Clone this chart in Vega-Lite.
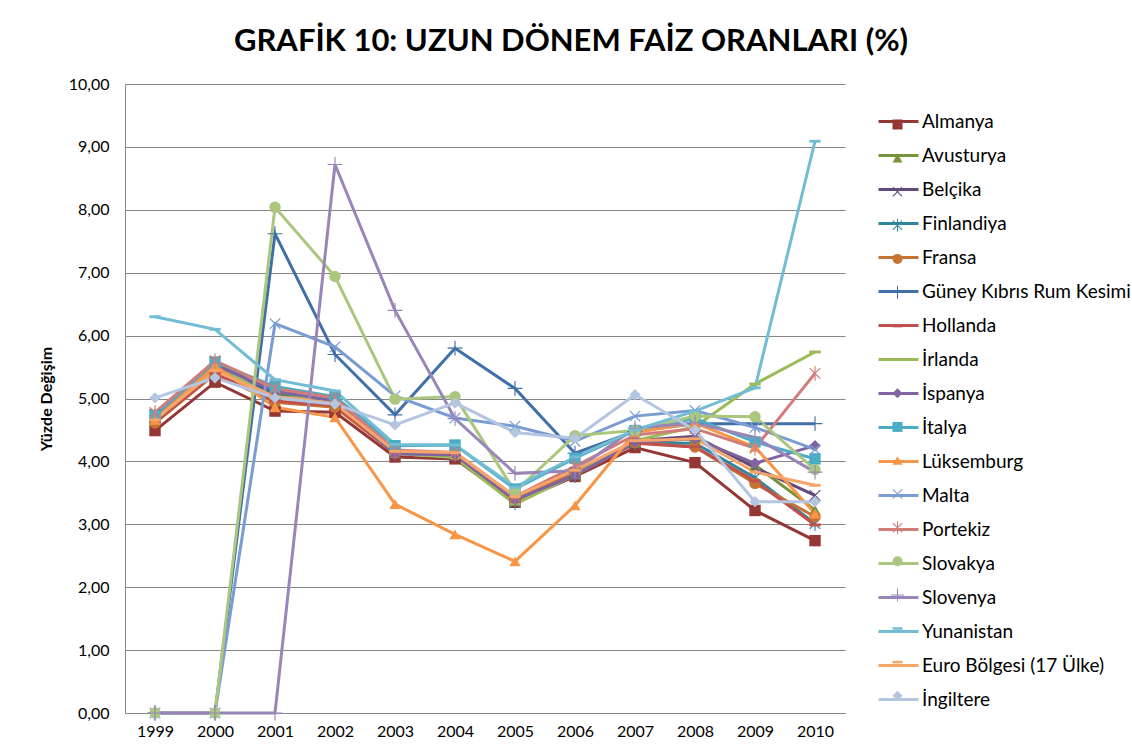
{
  "$schema": "https://vega.github.io/schema/vega-lite/v6.json",
  "width": 720,
  "height": 629,
  "autosize": {"type": "none"},
  "padding": {"left": 125, "top": 84, "right": 287, "bottom": 43},
  "background": "white",
  "title": {"text": "GRAFİK 10: UZUN DÖNEM FAİZ ORANLARI (%)", "font": "Lato", "fontSize": 31, "fontWeight": "bold", "color": "#000000", "anchor": "middle", "dx": 86, "offset": 18},
  "config": {"view": {"stroke": null}},
  "data": {"values": [
    {"yil":"1999","ulke":"Almanya","v":4.49},{"yil":"2000","ulke":"Almanya","v":5.26},{"yil":"2001","ulke":"Almanya","v":4.80},{"yil":"2002","ulke":"Almanya","v":4.78},{"yil":"2003","ulke":"Almanya","v":4.07},{"yil":"2004","ulke":"Almanya","v":4.04},{"yil":"2005","ulke":"Almanya","v":3.35},{"yil":"2006","ulke":"Almanya","v":3.76},{"yil":"2007","ulke":"Almanya","v":4.22},{"yil":"2008","ulke":"Almanya","v":3.98},{"yil":"2009","ulke":"Almanya","v":3.22},{"yil":"2010","ulke":"Almanya","v":2.74},
    {"yil":"1999","ulke":"Avusturya","v":4.68},{"yil":"2000","ulke":"Avusturya","v":5.56},{"yil":"2001","ulke":"Avusturya","v":5.08},{"yil":"2002","ulke":"Avusturya","v":4.96},{"yil":"2003","ulke":"Avusturya","v":4.14},{"yil":"2004","ulke":"Avusturya","v":4.13},{"yil":"2005","ulke":"Avusturya","v":3.39},{"yil":"2006","ulke":"Avusturya","v":3.80},{"yil":"2007","ulke":"Avusturya","v":4.30},{"yil":"2008","ulke":"Avusturya","v":4.36},{"yil":"2009","ulke":"Avusturya","v":3.94},{"yil":"2010","ulke":"Avusturya","v":3.23},
    {"yil":"1999","ulke":"Belçika","v":4.75},{"yil":"2000","ulke":"Belçika","v":5.59},{"yil":"2001","ulke":"Belçika","v":5.06},{"yil":"2002","ulke":"Belçika","v":4.89},{"yil":"2003","ulke":"Belçika","v":4.15},{"yil":"2004","ulke":"Belçika","v":4.06},{"yil":"2005","ulke":"Belçika","v":3.43},{"yil":"2006","ulke":"Belçika","v":3.82},{"yil":"2007","ulke":"Belçika","v":4.33},{"yil":"2008","ulke":"Belçika","v":4.40},{"yil":"2009","ulke":"Belçika","v":3.90},{"yil":"2010","ulke":"Belçika","v":3.46},
    {"yil":"1999","ulke":"Finlandiya","v":4.72},{"yil":"2000","ulke":"Finlandiya","v":5.48},{"yil":"2001","ulke":"Finlandiya","v":5.04},{"yil":"2002","ulke":"Finlandiya","v":4.98},{"yil":"2003","ulke":"Finlandiya","v":4.13},{"yil":"2004","ulke":"Finlandiya","v":4.11},{"yil":"2005","ulke":"Finlandiya","v":3.35},{"yil":"2006","ulke":"Finlandiya","v":3.78},{"yil":"2007","ulke":"Finlandiya","v":4.29},{"yil":"2008","ulke":"Finlandiya","v":4.29},{"yil":"2009","ulke":"Finlandiya","v":3.74},{"yil":"2010","ulke":"Finlandiya","v":3.01},
    {"yil":"1999","ulke":"Fransa","v":4.61},{"yil":"2000","ulke":"Fransa","v":5.39},{"yil":"2001","ulke":"Fransa","v":4.94},{"yil":"2002","ulke":"Fransa","v":4.86},{"yil":"2003","ulke":"Fransa","v":4.13},{"yil":"2004","ulke":"Fransa","v":4.10},{"yil":"2005","ulke":"Fransa","v":3.41},{"yil":"2006","ulke":"Fransa","v":3.80},{"yil":"2007","ulke":"Fransa","v":4.30},{"yil":"2008","ulke":"Fransa","v":4.23},{"yil":"2009","ulke":"Fransa","v":3.65},{"yil":"2010","ulke":"Fransa","v":3.12},
    {"yil":"1999","ulke":"Güney Kıbrıs Rum Kesimi","v":0},{"yil":"2000","ulke":"Güney Kıbrıs Rum Kesimi","v":0},{"yil":"2001","ulke":"Güney Kıbrıs Rum Kesimi","v":7.62},{"yil":"2002","ulke":"Güney Kıbrıs Rum Kesimi","v":5.70},{"yil":"2003","ulke":"Güney Kıbrıs Rum Kesimi","v":4.74},{"yil":"2004","ulke":"Güney Kıbrıs Rum Kesimi","v":5.80},{"yil":"2005","ulke":"Güney Kıbrıs Rum Kesimi","v":5.16},{"yil":"2006","ulke":"Güney Kıbrıs Rum Kesimi","v":4.13},{"yil":"2007","ulke":"Güney Kıbrıs Rum Kesimi","v":4.48},{"yil":"2008","ulke":"Güney Kıbrıs Rum Kesimi","v":4.60},{"yil":"2009","ulke":"Güney Kıbrıs Rum Kesimi","v":4.60},{"yil":"2010","ulke":"Güney Kıbrıs Rum Kesimi","v":4.60},
    {"yil":"1999","ulke":"Hollanda","v":4.63},{"yil":"2000","ulke":"Hollanda","v":5.40},{"yil":"2001","ulke":"Hollanda","v":4.96},{"yil":"2002","ulke":"Hollanda","v":4.89},{"yil":"2003","ulke":"Hollanda","v":4.12},{"yil":"2004","ulke":"Hollanda","v":4.10},{"yil":"2005","ulke":"Hollanda","v":3.37},{"yil":"2006","ulke":"Hollanda","v":3.78},{"yil":"2007","ulke":"Hollanda","v":4.29},{"yil":"2008","ulke":"Hollanda","v":4.23},{"yil":"2009","ulke":"Hollanda","v":3.69},{"yil":"2010","ulke":"Hollanda","v":2.99},
    {"yil":"1999","ulke":"İrlanda","v":4.71},{"yil":"2000","ulke":"İrlanda","v":5.51},{"yil":"2001","ulke":"İrlanda","v":5.01},{"yil":"2002","ulke":"İrlanda","v":5.01},{"yil":"2003","ulke":"İrlanda","v":4.13},{"yil":"2004","ulke":"İrlanda","v":4.06},{"yil":"2005","ulke":"İrlanda","v":3.32},{"yil":"2006","ulke":"İrlanda","v":3.79},{"yil":"2007","ulke":"İrlanda","v":4.33},{"yil":"2008","ulke":"İrlanda","v":4.55},{"yil":"2009","ulke":"İrlanda","v":5.23},{"yil":"2010","ulke":"İrlanda","v":5.74},
    {"yil":"1999","ulke":"İspanya","v":4.73},{"yil":"2000","ulke":"İspanya","v":5.53},{"yil":"2001","ulke":"İspanya","v":5.12},{"yil":"2002","ulke":"İspanya","v":4.96},{"yil":"2003","ulke":"İspanya","v":4.12},{"yil":"2004","ulke":"İspanya","v":4.10},{"yil":"2005","ulke":"İspanya","v":3.39},{"yil":"2006","ulke":"İspanya","v":3.78},{"yil":"2007","ulke":"İspanya","v":4.31},{"yil":"2008","ulke":"İspanya","v":4.36},{"yil":"2009","ulke":"İspanya","v":3.97},{"yil":"2010","ulke":"İspanya","v":4.25},
    {"yil":"1999","ulke":"İtalya","v":4.73},{"yil":"2000","ulke":"İtalya","v":5.58},{"yil":"2001","ulke":"İtalya","v":5.19},{"yil":"2002","ulke":"İtalya","v":5.03},{"yil":"2003","ulke":"İtalya","v":4.25},{"yil":"2004","ulke":"İtalya","v":4.26},{"yil":"2005","ulke":"İtalya","v":3.56},{"yil":"2006","ulke":"İtalya","v":4.05},{"yil":"2007","ulke":"İtalya","v":4.49},{"yil":"2008","ulke":"İtalya","v":4.68},{"yil":"2009","ulke":"İtalya","v":4.31},{"yil":"2010","ulke":"İtalya","v":4.04},
    {"yil":"1999","ulke":"Lüksemburg","v":4.66},{"yil":"2000","ulke":"Lüksemburg","v":5.52},{"yil":"2001","ulke":"Lüksemburg","v":4.86},{"yil":"2002","ulke":"Lüksemburg","v":4.70},{"yil":"2003","ulke":"Lüksemburg","v":3.32},{"yil":"2004","ulke":"Lüksemburg","v":2.84},{"yil":"2005","ulke":"Lüksemburg","v":2.41},{"yil":"2006","ulke":"Lüksemburg","v":3.30},{"yil":"2007","ulke":"Lüksemburg","v":4.46},{"yil":"2008","ulke":"Lüksemburg","v":4.61},{"yil":"2009","ulke":"Lüksemburg","v":4.23},{"yil":"2010","ulke":"Lüksemburg","v":3.17},
    {"yil":"1999","ulke":"Malta","v":0},{"yil":"2000","ulke":"Malta","v":0},{"yil":"2001","ulke":"Malta","v":6.19},{"yil":"2002","ulke":"Malta","v":5.82},{"yil":"2003","ulke":"Malta","v":5.04},{"yil":"2004","ulke":"Malta","v":4.69},{"yil":"2005","ulke":"Malta","v":4.56},{"yil":"2006","ulke":"Malta","v":4.32},{"yil":"2007","ulke":"Malta","v":4.72},{"yil":"2008","ulke":"Malta","v":4.81},{"yil":"2009","ulke":"Malta","v":4.54},{"yil":"2010","ulke":"Malta","v":4.19},
    {"yil":"1999","ulke":"Portekiz","v":4.78},{"yil":"2000","ulke":"Portekiz","v":5.60},{"yil":"2001","ulke":"Portekiz","v":5.16},{"yil":"2002","ulke":"Portekiz","v":5.01},{"yil":"2003","ulke":"Portekiz","v":4.18},{"yil":"2004","ulke":"Portekiz","v":4.14},{"yil":"2005","ulke":"Portekiz","v":3.44},{"yil":"2006","ulke":"Portekiz","v":3.92},{"yil":"2007","ulke":"Portekiz","v":4.42},{"yil":"2008","ulke":"Portekiz","v":4.52},{"yil":"2009","ulke":"Portekiz","v":4.21},{"yil":"2010","ulke":"Portekiz","v":5.40},
    {"yil":"1999","ulke":"Slovakya","v":0},{"yil":"2000","ulke":"Slovakya","v":0},{"yil":"2001","ulke":"Slovakya","v":8.04},{"yil":"2002","ulke":"Slovakya","v":6.94},{"yil":"2003","ulke":"Slovakya","v":4.99},{"yil":"2004","ulke":"Slovakya","v":5.03},{"yil":"2005","ulke":"Slovakya","v":3.52},{"yil":"2006","ulke":"Slovakya","v":4.41},{"yil":"2007","ulke":"Slovakya","v":4.49},{"yil":"2008","ulke":"Slovakya","v":4.72},{"yil":"2009","ulke":"Slovakya","v":4.71},{"yil":"2010","ulke":"Slovakya","v":3.87},
    {"yil":"1999","ulke":"Slovenya","v":0},{"yil":"2000","ulke":"Slovenya","v":0},{"yil":"2001","ulke":"Slovenya","v":0},{"yil":"2002","ulke":"Slovenya","v":8.72},{"yil":"2003","ulke":"Slovenya","v":6.40},{"yil":"2004","ulke":"Slovenya","v":4.68},{"yil":"2005","ulke":"Slovenya","v":3.81},{"yil":"2006","ulke":"Slovenya","v":3.85},{"yil":"2007","ulke":"Slovenya","v":4.53},{"yil":"2008","ulke":"Slovenya","v":4.61},{"yil":"2009","ulke":"Slovenya","v":4.38},{"yil":"2010","ulke":"Slovenya","v":3.83},
    {"yil":"1999","ulke":"Yunanistan","v":6.30},{"yil":"2000","ulke":"Yunanistan","v":6.10},{"yil":"2001","ulke":"Yunanistan","v":5.30},{"yil":"2002","ulke":"Yunanistan","v":5.12},{"yil":"2003","ulke":"Yunanistan","v":4.27},{"yil":"2004","ulke":"Yunanistan","v":4.26},{"yil":"2005","ulke":"Yunanistan","v":3.59},{"yil":"2006","ulke":"Yunanistan","v":4.07},{"yil":"2007","ulke":"Yunanistan","v":4.50},{"yil":"2008","ulke":"Yunanistan","v":4.80},{"yil":"2009","ulke":"Yunanistan","v":5.17},{"yil":"2010","ulke":"Yunanistan","v":9.09},
    {"yil":"1999","ulke":"Euro Bölgesi (17 Ülke)","v":4.66},{"yil":"2000","ulke":"Euro Bölgesi (17 Ülke)","v":5.44},{"yil":"2001","ulke":"Euro Bölgesi (17 Ülke)","v":5.03},{"yil":"2002","ulke":"Euro Bölgesi (17 Ülke)","v":4.92},{"yil":"2003","ulke":"Euro Bölgesi (17 Ülke)","v":4.16},{"yil":"2004","ulke":"Euro Bölgesi (17 Ülke)","v":4.14},{"yil":"2005","ulke":"Euro Bölgesi (17 Ülke)","v":3.44},{"yil":"2006","ulke":"Euro Bölgesi (17 Ülke)","v":3.86},{"yil":"2007","ulke":"Euro Bölgesi (17 Ülke)","v":4.33},{"yil":"2008","ulke":"Euro Bölgesi (17 Ülke)","v":4.36},{"yil":"2009","ulke":"Euro Bölgesi (17 Ülke)","v":3.83},{"yil":"2010","ulke":"Euro Bölgesi (17 Ülke)","v":3.62},
    {"yil":"1999","ulke":"İngiltere","v":5.01},{"yil":"2000","ulke":"İngiltere","v":5.33},{"yil":"2001","ulke":"İngiltere","v":5.01},{"yil":"2002","ulke":"İngiltere","v":4.91},{"yil":"2003","ulke":"İngiltere","v":4.58},{"yil":"2004","ulke":"İngiltere","v":4.93},{"yil":"2005","ulke":"İngiltere","v":4.46},{"yil":"2006","ulke":"İngiltere","v":4.37},{"yil":"2007","ulke":"İngiltere","v":5.06},{"yil":"2008","ulke":"İngiltere","v":4.50},{"yil":"2009","ulke":"İngiltere","v":3.36},{"yil":"2010","ulke":"İngiltere","v":3.36}
  ]},
  "encoding": {
    "x": {"field": "yil", "type": "ordinal", "scale": {"type": "point", "padding": 0.5},
      "axis": {"title": null, "labelAngle": 0, "labelFont": "Lato", "labelFontSize": 16, "labelColor": "#000000", "ticks": false, "labelPadding": 10, "domainColor": "#868686", "domainWidth": 1, "grid": false}},
    "y": {"field": "v", "type": "quantitative", "scale": {"domain": [0, 10], "nice": false, "zero": true},
      "axis": {"title": "Yüzde Değişim", "titleFont": "Lato", "titleFontSize": 16, "titleFontWeight": "bold", "titleColor": "#000000", "titlePadding": 14,
        "values": [0,1,2,3,4,5,6,7,8,9,10], "labelExpr": "replace(format(datum.value, '.2f'), '.', ',')",
        "labelFont": "Lato", "labelFontSize": 16, "labelColor": "#000000", "ticks": false, "labelPadding": 16,
        "domainColor": "#868686", "domainWidth": 1, "grid": true, "gridColor": "#868686", "gridWidth": 1}}
  },
  "layer": [
    {
      "mark": {"type": "line", "strokeWidth": 3},
      "encoding": {
        "stroke": {"field": "ulke", "type": "nominal",
          "sort": ["Almanya","Avusturya","Belçika","Finlandiya","Fransa","Güney Kıbrıs Rum Kesimi","Hollanda","İrlanda","İspanya","İtalya","Lüksemburg","Malta","Portekiz","Slovakya","Slovenya","Yunanistan","Euro Bölgesi (17 Ülke)","İngiltere"],
          "scale": {"range": ["#953735","#77933C","#604A7B","#31859C","#C47332","#4170A8","#C0504D","#9BBB59","#8064A2","#4BACC6","#F79646","#7A9CD2","#D27C7A","#ABC67F","#9A85B8","#72BCD4","#F7A56A","#B4C5E1"]},
          "legend": {"orient": "none", "legendX": 752, "legendY": 16, "title": null, "padding": 0, "symbolType": "stroke", "symbolSize": 1600, "symbolStrokeWidth": 3, "labelFont": "Lato", "labelFontSize": 19, "labelColor": "#000000", "labelOffset": 2, "labelLimit": 400, "rowPadding": 2}}
      }
    },
    {
      "mark": {"type": "point", "filled": true, "size": 130, "opacity": 1, "strokeWidth": 0},
      "encoding": {
        "color": {"field": "ulke", "type": "nominal",
          "scale": {
            "domain": ["Almanya","Avusturya","Belçika","Finlandiya","Fransa","Güney Kıbrıs Rum Kesimi","Hollanda","İrlanda","İspanya","İtalya","Lüksemburg","Malta","Portekiz","Slovakya","Slovenya","Yunanistan","Euro Bölgesi (17 Ülke)","İngiltere"],
            "range": ["#953735","#77933C","#604A7B","#31859C","#C47332","#4170A8","#C0504D","#9BBB59","#8064A2","#4BACC6","#F79646","#7A9CD2","#D27C7A","#ABC67F","#9A85B8","#72BCD4","#F7A56A","#B4C5E1"]},
          "legend": {"orient": "none", "legendX": 763, "legendY": 31, "title": null, "padding": 0, "symbolSize": 100, "symbolStrokeWidth": 0, "labelFont": "Lato", "labelFontSize": 19, "labelColor": "transparent", "labelLimit": 400, "rowPadding": 13.6}},
        "shape": {"field": "ulke", "type": "nominal",
          "scale": {
            "domain": ["Almanya","Avusturya","Belçika","Finlandiya","Fransa","Güney Kıbrıs Rum Kesimi","Hollanda","İrlanda","İspanya","İtalya","Lüksemburg","Malta","Portekiz","Slovakya","Slovenya","Yunanistan","Euro Bölgesi (17 Ülke)","İngiltere"],
            "range": [
            "square",
            "triangle-up",
            "M-1,-0.85L-0.85,-1L0,-0.15L0.85,-1L1,-0.85L0.15,0L1,0.85L0.85,1L0,0.15L-0.85,1L-1,0.85L-0.15,0Z",
            "M-1,-0.85L-0.85,-1L0,-0.15L0.85,-1L1,-0.85L0.15,0L1,0.85L0.85,1L0,0.15L-0.85,1L-1,0.85L-0.15,0ZM-0.1,-1.3H0.1V1.3H-0.1Z",
            "circle",
            "M-1.3,-0.1H-0.1V-1.3H0.1V-0.1H1.3V0.1H0.1V1.3H-0.1V0.1H-1.3Z",
            "M-1,-0.25H1V0.25H-1Z",
            "M-1,-0.25H1V0.25H-1Z",
            "diamond",
            "square",
            "triangle-up",
            "M-1,-0.85L-0.85,-1L0,-0.15L0.85,-1L1,-0.85L0.15,0L1,0.85L0.85,1L0,0.15L-0.85,1L-1,0.85L-0.15,0Z",
            "M-1,-0.85L-0.85,-1L0,-0.15L0.85,-1L1,-0.85L0.15,0L1,0.85L0.85,1L0,0.15L-0.85,1L-1,0.85L-0.15,0ZM-0.1,-1.3H0.1V1.3H-0.1Z",
            "circle",
            "M-1.3,-0.1H-0.1V-1.3H0.1V-0.1H1.3V0.1H0.1V1.3H-0.1V0.1H-1.3Z",
            "M-1,-0.25H1V0.25H-1Z",
            "M-1,-0.25H1V0.25H-1Z",
            "diamond"]},
          "legend": {"orient": "none", "legendX": 763, "legendY": 31, "title": null, "padding": 0, "symbolSize": 100, "symbolStrokeWidth": 0, "labelFont": "Lato", "labelFontSize": 19, "labelColor": "transparent", "labelLimit": 400, "rowPadding": 13.6}}
      }
    }
  ]
}
